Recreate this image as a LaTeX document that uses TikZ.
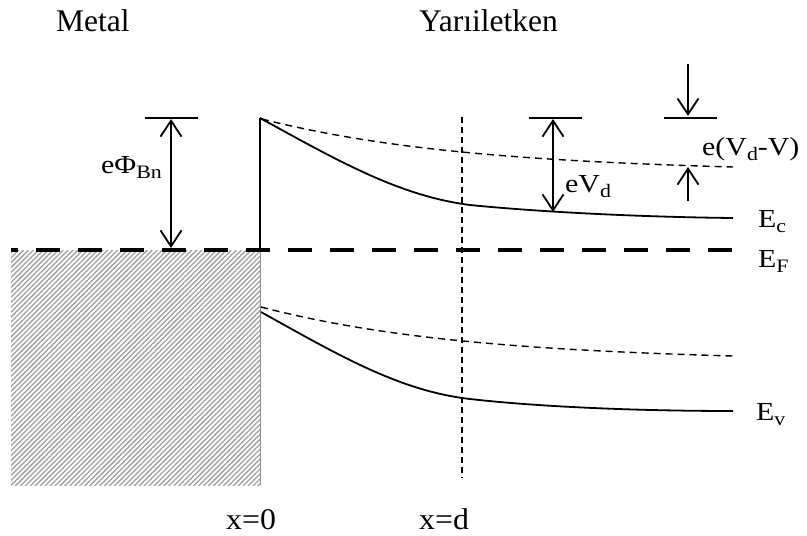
\documentclass[tikz,border=0pt]{standalone}
\usepackage{fontspec}
\setmainfont{Liberation Serif}
\usetikzlibrary{arrows.meta,patterns.meta}
\newcommand\lsub[1]{\raisebox{-5.5pt}{\fontsize{19}{21}\selectfont #1}}
\newcommand\wlab[1]{\scalebox{1.15}[1]{#1}}
\newcommand\wxl[1]{\scalebox{1.06}[1]{#1}}
\begin{document}
\begin{tikzpicture}[x=1pt,y=-1pt,
  ttl/.style={font=\fontsize{31.5}{35}\selectfont, inner sep=0pt, anchor=base west},
  lbl/.style={font=\fontsize{26}{30}\selectfont, inner sep=0pt, anchor=base west},
  xlbl/.style={font=\fontsize{30}{34}\selectfont, inner sep=0pt, anchor=base west},
  band/.style={line width=1.8pt},
  bandd/.style={line width=1.4pt, dash pattern=on 7pt off 5pt},
  bar/.style={line width=1.8pt},
  tip/.style={line width=1.8pt, -{Straight Barb[length=16pt,width=21pt]}},
  dtip/.style={line width=1.8pt, {Straight Barb[length=16pt,width=21pt]}-{Straight Barb[length=16pt,width=21pt]}},
  fermi/.style={line width=4pt, dash pattern=on 24pt off 18pt, dash phase=17pt},
  guide/.style={line width=1.2pt, dash pattern=on 6pt off 4pt}
]
\useasboundingbox (0,0) rectangle (807,536);

% metal (hatched)
\fill[pattern={Lines[angle=45,distance=3.5pt,line width=1.3pt]}, pattern color=black!38] (11,250) rectangle (260,485);
\draw[black!45, line width=0.8pt] (260,250) -- (260,485);

% key coordinates
\coordinate (top) at (260,118);
\coordinate (mb) at (260,250);
\coordinate (efL) at (11,250);
\coordinate (efR) at (737,250);
\coordinate (ecR) at (733,218);
\coordinate (ecdL) at (262,119);
\coordinate (ecdR) at (733,167);
\coordinate (evL) at (261,312);
\coordinate (evR) at (733,411);
\coordinate (evdL) at (261,307);
\coordinate (evdR) at (733,356);
\coordinate (dT) at (462,117);
\coordinate (dB) at (462,478);

% Fermi level
\draw[fermi] (efL) -- (efR);
% metal-semiconductor interface
\draw[band] (mb) -- (top);
% conduction band
\draw[band] (top) .. controls (340,162) and (400,196) .. (470,205) .. controls (540,212) and (640,217) .. (ecR);
\draw[bandd] (ecdL) .. controls (380,149) and (520,161) .. (ecdR);
% valence band
\draw[band] (evL) .. controls (340,356) and (400,391) .. (470,399) .. controls (540,407) and (640,411) .. (evR);
\draw[bandd] (evdL) .. controls (380,338) and (520,350) .. (evdR);
% x = d
\draw[guide] (dT) -- (dB);

% barrier height
\coordinate (b1L) at (145,118); \coordinate (b1R) at (198,118);
\coordinate (a1T) at (171,119); \coordinate (a1B) at (171,248);
\draw[bar] (b1L) -- (b1R);
\draw[dtip] (a1T) -- (a1B);
% built-in potential
\coordinate (b2L) at (529,118); \coordinate (b2R) at (582,118);
\coordinate (a2T) at (553,119); \coordinate (a2B) at (553,212);
\draw[bar] (b2L) -- (b2R);
\draw[dtip] (a2T) -- (a2B);
% e(Vd-V)
\coordinate (b3L) at (664,118); \coordinate (b3R) at (717,118);
\coordinate (a3S) at (688,64); \coordinate (a3E) at (688,116);
\coordinate (a4S) at (688,201); \coordinate (a4E) at (688,167);
\draw[bar] (b3L) -- (b3R);
\draw[tip] (a3S) -- (a3E);
\draw[tip] (a4S) -- (a4E);

% labels
\node[ttl] (metal) at (56,31) {Metal};
\node[ttl] (semi) at (419,31) {Yarıiletken};
\node[lbl] (phib) at (101,173) {\wlab{eΦ\lsub{Bn}}};
\node[lbl] (vd) at (565,192) {\wlab{eV\lsub{d}}};
\node[lbl] (vdv) at (702,155) {\wlab{e(V\lsub{d}-V)}};
\node[lbl] (ec) at (758,227) {\wlab{E\lsub{c}}};
\node[lbl] (ef) at (758,267) {\wlab{E\lsub{F}}};
\node[lbl] (ev) at (756,420) {\wlab{E\lsub{v}}};
\node[xlbl] (x0) at (226,529) {\wxl{x=0}};
\node[xlbl] (xd) at (419,529) {\wxl{x=d}};
\end{tikzpicture}
\end{document}
